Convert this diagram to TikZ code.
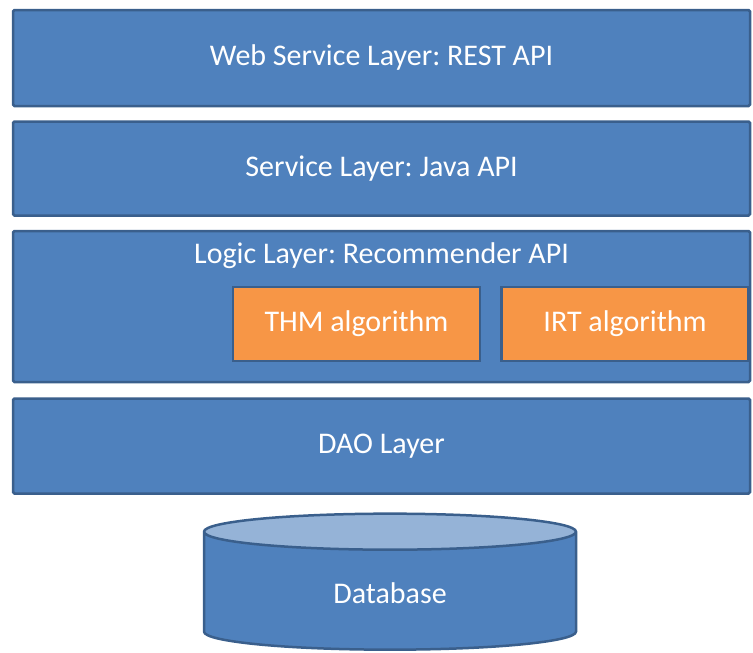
\documentclass[tikz,border=0pt]{standalone}
\usepackage{fontspec}
\setmainfont{Carlito}
\usetikzlibrary{positioning, shapes.geometric}
\definecolor{layerblue}{HTML}{4F81BD}
\definecolor{edgeblue}{HTML}{3A5F8C}
\definecolor{algoorange}{HTML}{F79646}
\definecolor{toplight}{HTML}{95B3D7}
\frenchspacing
\begin{document}
\begin{tikzpicture}[
        x=1pt, y=-1pt,
        node distance=13pt,
        layer/.style={
            rectangle,
            draw=edgeblue,
            fill=layerblue,
            line width=2.5pt,
            rounded corners=1.5pt,
            minimum width=737pt,
            text=white,
            text centered,
            font=\fontsize{30}{36}\selectfont
        },
        algo/.style={
            layer,
            fill=algoorange,
            minimum width=247pt,
            minimum height=74pt,
            rounded corners=0pt
        },
        plain/.style={
            text=white,
            text centered,
            font=\fontsize{30}{36}\selectfont
        },
        db/.style={
            cylinder,
            shape border rotate=90,
            draw=edgeblue,
            line width=2.5pt,
            aspect=0.3,
            minimum width=372pt,
            minimum height=136pt,
            cylinder uses custom fill,
            cylinder body fill=layerblue,
            cylinder end fill=toplight,
            text=white,
            font=\fontsize{30}{36}\selectfont
        }
    ]
        \useasboundingbox (0,0) rectangle (753,653);

        % Layers
        \node [layer, minimum height=96pt] (web) at (381.5,58) {Web Service Layer: REST API};
        \node [layer, minimum height=94pt, below=of web] (svc) {Service Layer: Java API};
        \node [layer, minimum height=151pt, below=of svc] (logic) {};
        \node [plain, below=9pt of logic.north] (logiclbl) {Logic Layer: Recommender API};
        \node [layer, minimum height=95pt, below=14pt of logic] (dao) {DAO Layer};

        % Algorithms inside the logic layer
        \node [algo] (thm) at (356.5,324) {THM algorithm};
        \node [algo, right=19pt of thm] (irt) {IRT algorithm};

        % Storage
        \node [db] (data) at (390,593) {Database};
    \end{tikzpicture}
\end{document}
